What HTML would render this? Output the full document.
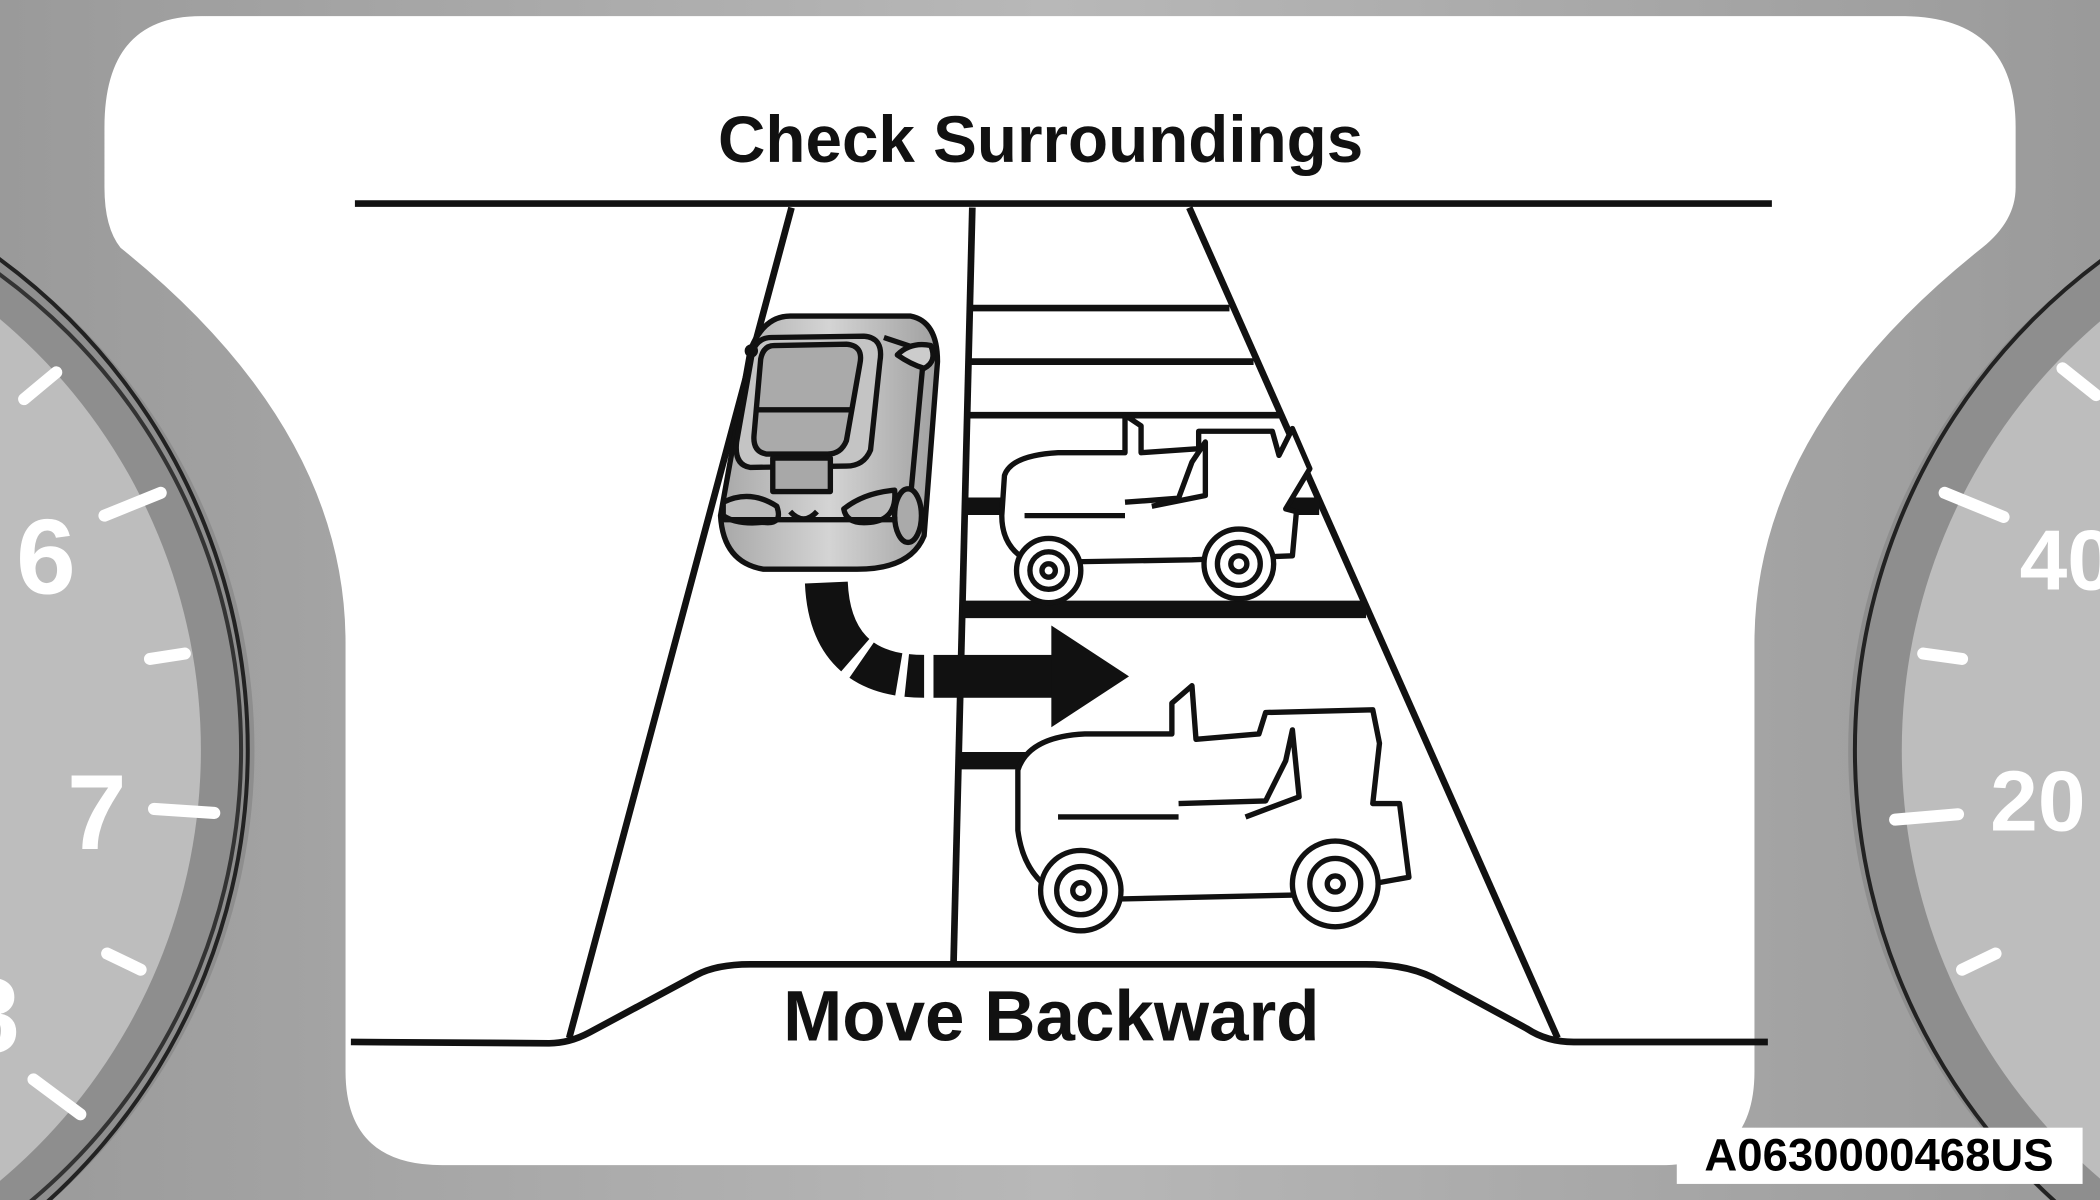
<!DOCTYPE html>
<html><head><meta charset="utf-8"><style>
html,body{margin:0;padding:0;background:#a8a8a8;overflow:hidden;width:2100px;height:1200px}
svg{display:block}
text{font-family:"Liberation Sans",Arial,sans-serif;font-weight:bold}
</style></head><body>
<svg width="2100" height="1200" viewBox="0 0 1568 896" xmlns="http://www.w3.org/2000/svg">
<defs>
<linearGradient id="bg" x1="0" y1="0" x2="1" y2="0">
<stop offset="0" stop-color="#9a9a9a"/><stop offset="0.5" stop-color="#b8b8b8"/><stop offset="1" stop-color="#9a9a9a"/></linearGradient>
<linearGradient id="car" x1="0" y1="0" x2="1" y2="0">
<stop offset="0" stop-color="#a8a8a8"/><stop offset="0.5" stop-color="#d4d4d4"/><stop offset="1" stop-color="#a0a0a0"/></linearGradient>
</defs>
<rect width="1568" height="896" fill="url(#bg)"/>
<circle cx="-260" cy="560" r="450" fill="#8e8e8e"/>
<circle cx="-260" cy="560" r="440" fill="none" stroke="#333" stroke-width="3"/>
<circle cx="-270" cy="560" r="420" fill="#bdbdbd"/>
<circle cx="-270" cy="560" r="455" fill="none" stroke="#222" stroke-width="3"/>
<g stroke="#fff" stroke-width="9" stroke-linecap="round">
<line x1="18" y1="298" x2="42" y2="278"/><line x1="78" y1="385" x2="120" y2="368"/>
<line x1="112" y1="492" x2="138" y2="488"/><line x1="115" y1="604" x2="160" y2="607"/>
<line x1="80" y1="712" x2="105" y2="724"/><line x1="25" y1="806" x2="60" y2="832"/>
</g>
<text x="12" y="443" font-size="80" fill="#fff" font-weight="normal">6</text>
<text x="50" y="634" font-size="80" fill="#fff" font-weight="normal">7</text>
<text x="-30" y="786" font-size="80" fill="#fff" font-weight="normal">8</text>
<circle cx="1830" cy="560" r="450" fill="#8e8e8e"/>
<circle cx="1840" cy="560" r="420" fill="#bdbdbd"/>
<circle cx="1840" cy="560" r="455" fill="none" stroke="#222" stroke-width="3"/>
<g stroke="#fff" stroke-width="9" stroke-linecap="round">
<line x1="1540" y1="275" x2="1565" y2="295"/><line x1="1452" y1="368" x2="1496" y2="386"/>
<line x1="1436" y1="488" x2="1465" y2="492"/><line x1="1415" y1="612" x2="1462" y2="608"/>
<line x1="1465" y1="724" x2="1490" y2="712"/>
</g>
<text x="1508" y="440" font-size="64" fill="#fff">40</text>
<text x="1486" y="620" font-size="64" fill="#fff">20</text>
<path d="M150,12 L1420,12 Q1505,12 1505,95 L1505,140 Q1505,165 1480,185 Q1310,320 1310,480 L1310,800 Q1310,870 1240,870 L330,870 Q258,870 258,800 L258,480 Q258,320 90,185 Q78,170 78,140 L78,95 Q78,12 150,12 Z" fill="#fff"/>
<text x="777" y="121" font-size="49" text-anchor="middle" fill="#111">Check Surroundings</text>
<line x1="265" y1="152" x2="1323" y2="152" stroke="#111" stroke-width="5"/>
<g stroke="#111" fill="none" stroke-width="5">
<line x1="591" y1="155" x2="425" y2="775"/>
<line x1="888" y1="155" x2="1163" y2="775"/>
<line x1="726" y1="155" x2="712" y2="718"/>
<path d="M262,778 L410,779 Q425,779 440,771 L520,728 Q535,720 560,720 L1020,720 Q1050,720 1070,730 L1140,768 Q1155,778 1175,778 L1320,778"/>
</g>
<g stroke="#111" stroke-width="5">
<line x1="726" y1="230" x2="918" y2="230"/>
<line x1="725" y1="270" x2="936" y2="270"/>
<line x1="724" y1="310" x2="955" y2="310"/>
</g>
<g stroke="#111" stroke-width="13">
<line x1="721" y1="378" x2="985" y2="378"/>
<line x1="719" y1="455" x2="1020" y2="455"/>
<line x1="716" y1="568" x2="800" y2="568"/>
</g>
<text x="785" y="777" font-size="53" text-anchor="middle" fill="#111">Move Backward</text>
<g stroke="#111" stroke-width="4" stroke-linejoin="round">
<path d="M590,236 L680,236 Q700,240 700,270 L690,400 Q680,425 640,425 L570,425 Q540,420 538,385 L560,262 Q570,236 590,236 Z" fill="url(#car)"/>
<path d="M576,252 L645,251 Q660,252 657,270 L650,336 Q645,348 632,348 L560,349 Q548,347 550,330 L562,262 Q566,252 576,252 Z" fill="#c4c4c4"/>
<path d="M578,258 L632,257 Q645,258 642,272 L632,329 Q628,339 618,339 L572,339 Q562,337 563,325 L568,268 Q570,258 578,258 Z" fill="#aaa"/>
<line x1="563" y1="306" x2="637" y2="306"/>
<rect x="577" y="342" width="43" height="25" fill="#a8a8a8"/>
<path d="M660,252 L690,262 L680,370" fill="none"/>
<path d="M670,265 Q680,255 695,258 Q700,270 690,275 Q680,272 670,265 Z" fill="#ccc"/>
<path d="M540,375 Q560,365 580,378 Q585,392 570,390 Q550,392 540,385 Z" fill="#bbb"/>
<path d="M630,380 Q645,368 668,366 Q670,388 650,390 Q632,392 630,380 Z" fill="#bbb"/>
<ellipse cx="678" cy="385" rx="10" ry="20" fill="#aaa"/>
<path d="M590,382 Q600,393 610,382" fill="#ccc"/>
<line x1="540" y1="388" x2="670" y2="388"/>
</g>
<circle cx="561" cy="262" r="5" fill="#111"/>
<path d="M617,435 Q620,505 690,505" fill="none" stroke="#111" stroke-width="32" stroke-dasharray="60,6,30,6,28,6,28,6,200"/>
<rect x="697" y="489" width="90" height="32" fill="#111"/>
<polygon points="785,467 843,505 785,543" fill="#111"/>
<g stroke="#111" stroke-width="4" fill="#fff" stroke-linejoin="round">
<path d="M750,355 Q755,340 790,338 L840,338 L840,310 L852,318 L852,338 L895,335 L895,322 L950,322 L955,340 L965,320 L978,350 L960,380 L968,382 L965,415 L890,418 L770,420 Q748,410 748,385 Z"/>
<path d="M840,375 L880,372 L890,345 L900,330 L900,370 L860,378"/>
<line x1="765" y1="385" x2="840" y2="385"/>
<circle cx="783" cy="426" r="24"/><circle cx="783" cy="426" r="14"/><circle cx="783" cy="426" r="5"/>
<circle cx="925" cy="421" r="26"/><circle cx="925" cy="421" r="16"/><circle cx="925" cy="421" r="6"/>
</g>
<g stroke="#111" stroke-width="4" fill="#fff" stroke-linejoin="round">
<path d="M760,575 Q768,550 810,548 L875,548 L875,525 L890,512 L893,552 L940,548 L945,532 L1025,530 L1030,555 L1025,600 L1045,600 L1052,655 L980,668 L800,672 Q765,660 760,620 Z"/>
<path d="M880,600 L945,598 L960,568 L965,545 L970,595 L930,610"/>
<line x1="790" y1="610" x2="880" y2="610"/>
<circle cx="807" cy="665" r="30"/><circle cx="807" cy="665" r="18"/><circle cx="807" cy="665" r="6"/>
<circle cx="997" cy="660" r="32"/><circle cx="997" cy="660" r="19"/><circle cx="997" cy="660" r="6"/>
</g>
<rect x="1252" y="842" width="303" height="42" fill="#fff"/>
<text x="1403" y="874" font-size="34" text-anchor="middle" fill="#000">A0630000468US</text>
</svg>
</body></html>
